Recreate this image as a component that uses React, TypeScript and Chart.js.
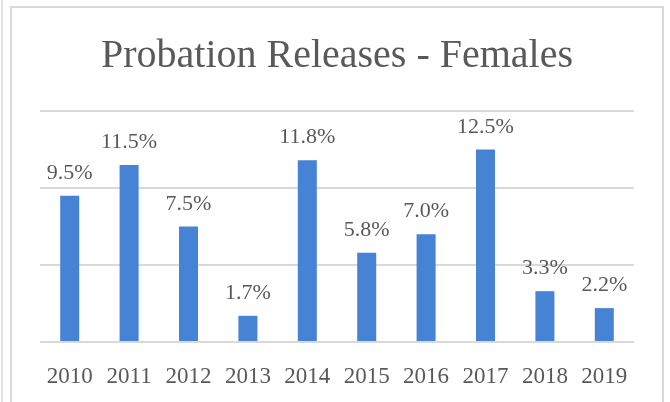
import React, { useEffect, useRef } from "react";
import { Chart, registerables } from "chart.js";

Chart.register(...registerables);

const years = ["2010", "2011", "2012", "2013", "2014", "2015", "2016", "2017", "2018", "2019"];
const rates = [9.5, 11.5, 7.5, 1.7, 11.8, 5.8, 7.0, 12.5, 3.3, 2.2];
const rateLabels = ["9.5%", "11.5%", "7.5%", "1.7%", "11.8%", "5.8%", "7.0%", "12.5%", "3.3%", "2.2%"];
const yTicks = [0, 5, 10, 15];

const FONT = "'Liberation Serif', 'DejaVu Serif', serif";
const TEXT = "#595959";
const GRID = "#d9d9d9";
const BAR = "#4683d4";

const framePlugin = {
  id: "frame",
  beforeDraw(chart: any) {
    const ctx = chart.ctx;
    ctx.save();
    ctx.fillStyle = "#ffffff";
    ctx.fillRect(0, 0, chart.width, chart.height);
    ctx.fillStyle = "#e3e3e3";
    ctx.fillRect(1, 0, 2, chart.height);
    ctx.fillStyle = GRID;
    ctx.fillRect(10, 6, 654, 2);
    ctx.fillRect(10, 6, 2, chart.height - 6);
    ctx.fillRect(662, 6, 2, chart.height - 6);
    ctx.restore();
  },
};

const labelPlugin = {
  id: "barLabels",
  afterDatasetsDraw(chart: any) {
    const ctx = chart.ctx;
    const meta = chart.getDatasetMeta(0);
    ctx.save();
    ctx.font = `22px ${FONT}`;
    ctx.fillStyle = TEXT;
    ctx.textAlign = "center";
    ctx.textBaseline = "alphabetic";
    meta.data.forEach((bar: any, i: number) => {
      ctx.fillText(rateLabels[i], bar.x, bar.y - 17);
    });
    ctx.restore();
  },
};

export default function App() {
  const ref = useRef<HTMLCanvasElement>(null);
  useEffect(() => {
    if (!ref.current) return;
    const chart = new Chart(ref.current, {
      type: "bar",
      data: {
        labels: years,
        datasets: [
          {
            data: rates,
            backgroundColor: BAR,
            barPercentage: 0.32,
            categoryPercentage: 1,
          },
        ],
      },
      options: {
        responsive: false,
        animation: false,
        layout: { padding: { left: 40, right: 36, top: 0, bottom: 12 } },
        plugins: {
          legend: { display: false },
          tooltip: { enabled: false },
          title: {
            display: true,
            text: "Probation Releases - Females",
            color: TEXT,
            font: { family: FONT, size: 40, weight: "normal" },
            padding: { top: 32, bottom: 31 },
          },
        },
        scales: {
          x: {
            grid: { display: false, drawTicks: false },
            border: { display: false },
            ticks: { color: TEXT, font: { family: FONT, size: 23 }, padding: 21 },
            afterFit: (axis: any) => {
              axis.height = 48;
            },
          },
          y: {
            min: 0,
            max: 15,
            afterBuildTicks: (axis: any) => {
              axis.ticks = yTicks.map((v) => ({ value: v }));
            },
            grid: { color: GRID, lineWidth: 2, drawTicks: false },
            border: { display: false },
            ticks: { display: false },
          },
        },
      },
      plugins: [framePlugin, labelPlugin],
    });
    return () => chart.destroy();
  }, []);
  return (
    <div style={{ position: "absolute", left: 0, top: 0, width: 670, height: 402 }}>
      <canvas ref={ref} width={670} height={402} style={{ display: "block" }} />
    </div>
  );
}
